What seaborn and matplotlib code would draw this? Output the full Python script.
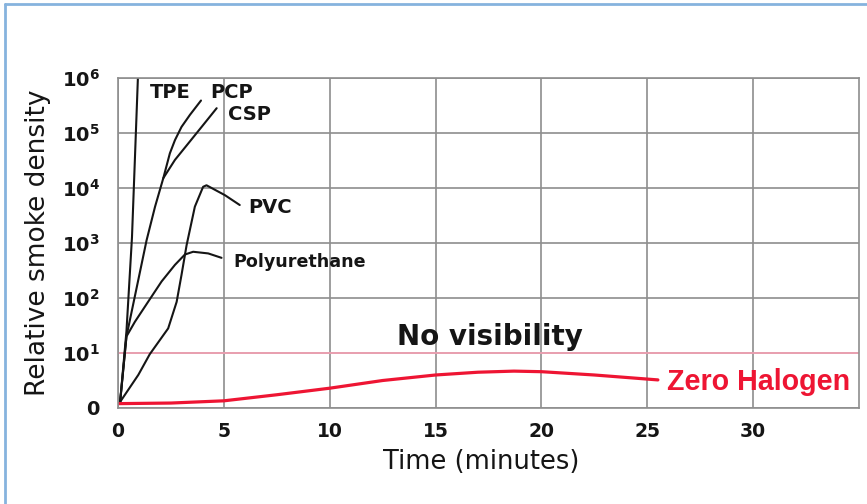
import numpy as np
import pandas as pd
import seaborn as sns
import matplotlib.pyplot as plt
from matplotlib.lines import Line2D
from matplotlib.ticker import NullLocator

# values (time in minutes, relative smoke density)
tpe_t = [0.1, 0.4, 0.66, 0.8, 0.94]
tpe_d = [1.29, 25, 1260, 35000, 1000000]

pcp_t = [0.1, 0.4, 1.35, 1.75, 2.14, 2.45, 2.69, 3.0, 3.4, 3.92]
pcp_d = [1.29, 20, 1120, 4570, 15100, 42700, 74100, 129000, 214000, 389000]

csp_t = [2.14, 2.69, 3.32, 3.95, 4.66]
csp_d = [15100, 32400, 64600, 129000, 282000]

pvc_t = [0.1, 0.96, 1.5, 2.37, 2.77, 3.0, 3.24, 3.63, 4.02, 4.18, 5.05, 5.75]
pvc_d = [1.29, 4, 9.5, 28, 85, 263, 912, 4570, 10500, 11200, 7400, 4900]

pur_t = [0.1, 0.4, 0.8, 1.42, 2.06, 2.69, 3.16, 3.55, 4.26, 4.89]
pur_d = [1.29, 20, 37, 85, 200, 400, 617, 692, 646, 537]

zh_t = [0, 2.5, 5, 7.5, 10, 12.5, 15, 17, 18.7, 20, 22.5, 25.5]
zh_d = [1.2, 1.23, 1.35, 1.74, 2.29, 3.16, 3.98, 4.47, 4.68, 4.57, 3.98, 3.24]

no_visibility = 10

x_ticks = [0, 5, 10, 15, 20, 25, 30]
y_ticks = [1, 10, 100, 1000, 10000, 100000, 1000000]
y_labels = ["0"] + [r"$\mathbf{10^{%d}}$" % i for i in range(1, 7)]

sns.set_style("white")
plt.rcParams["font.family"] = ["DejaVu Sans"]
plt.rcParams["mathtext.fontset"] = "dejavusans"

fig = plt.figure(figsize=(8.67, 5.04), dpi=100)
ax = fig.add_axes([0.1361, 0.1905, 0.8547, 0.6548])
ax.set_yscale("log")

black = "#151515"
for t, d in [(tpe_t, tpe_d), (pcp_t, pcp_d), (csp_t, csp_d), (pvc_t, pvc_d), (pur_t, pur_d)]:
    sns.lineplot(x=t, y=d, ax=ax, color=black, linewidth=1.5, sort=False, estimator=None,
                 solid_joinstyle="round", solid_capstyle="round")

ax.axhline(no_visibility, color="#f7a0b4", linewidth=1.2, zorder=1)
sns.lineplot(x=zh_t, y=zh_d, ax=ax, color="#ee1533", linewidth=2.3, sort=False, estimator=None,
             solid_joinstyle="round")

ax.set_xlim(0, 35)
ax.set_ylim(1, 1e6)
ax.set_xticks(x_ticks)
ax.set_xticklabels([str(v) for v in x_ticks], fontsize=13.5, fontweight="bold", color=black)
ax.set_yticks(y_ticks)
ax.set_yticklabels(y_labels, fontsize=14, fontweight="bold", color=black)
ax.yaxis.set_minor_locator(NullLocator())
ax.tick_params(axis="both", length=0)
ax.tick_params(axis="y", pad=13)
ax.tick_params(axis="x", pad=10)
ax.grid(True, color="#8e8e8e", linewidth=1.2)
for s in ax.spines.values():
    s.set_color("#8e8e8e")
    s.set_linewidth(1.2)

ax.set_xlabel("Time (minutes)", fontsize=18.5, color=black)
ax.xaxis.set_label_coords(0.49, -0.125)
ax.set_ylabel("Relative smoke density", fontsize=19, color=black)
ax.yaxis.set_label_coords(-0.09, 0.5)

lab = dict(fontsize=14, fontweight="bold", color=black, va="baseline", ha="left")
ax.text(1.51, 4.33e5, "TPE", **lab)
ax.text(4.34, 4.33e5, "PCP", **lab)
ax.text(5.2, 1.72e5, "CSP", **lab)
ax.text(6.15, 3510, "PVC", **lab)
ax.text(5.44, 371, "Polyurethane", fontsize=12.6, fontweight="bold", color=black,
        va="baseline", ha="left")
ax.text(13.16, 14, "No visibility", fontsize=20, fontweight="bold", color=black,
        va="baseline", ha="left")
ax.text(25.95, 2.12, "Zero Halogen", fontsize=20.6, fontweight="bold", color="#ee1533",
        family=["Liberation Sans", "DejaVu Sans"], va="baseline", ha="left")

# light blue frame of the screenshot
fig.add_artist(Line2D([5 / 867, 5 / 867], [0, 1 - 4 / 504], color="#86b3de", linewidth=2))
fig.add_artist(Line2D([5 / 867, 1], [1 - 4 / 504, 1 - 4 / 504], color="#86b3de", linewidth=2))

fig.savefig("out.png", dpi=100)
